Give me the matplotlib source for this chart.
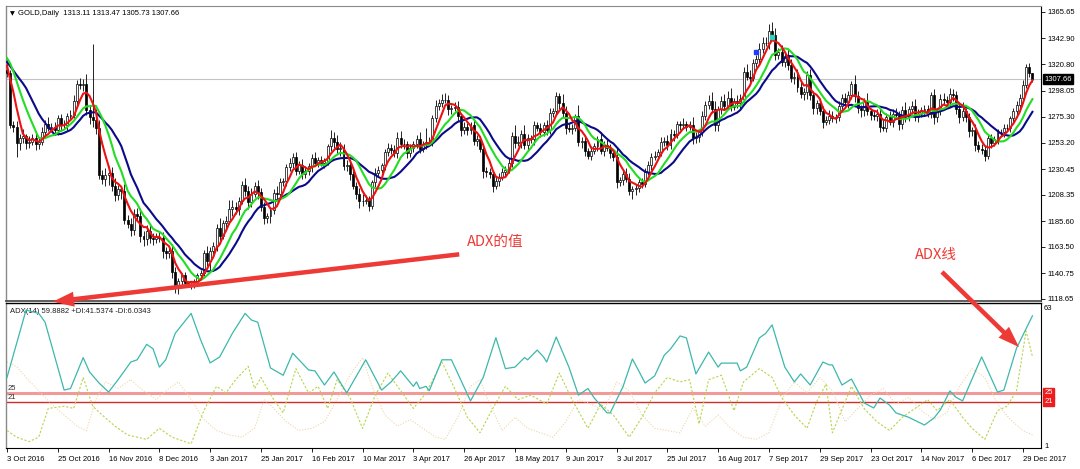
import numpy as np
import pandas as pd
import matplotlib
matplotlib.use('Agg')
import matplotlib.pyplot as plt
from matplotlib.patches import FancyArrowPatch

plt.rcParams['font.family'] = ['Liberation Sans', 'DejaVu Sans']

W, H = 1080, 469

# closes of the last days of Sep 2016 (only used to start the moving averages)
warmup_closes = [1323, 1323, 1310, 1310, 1314, 1314, 1336, 1337, 1338, 1338, 1326, 1322, 1320, 1316]

# daily closes, one line per 16 bars (= one date label)
closes = [
    1313, 1268, 1267, 1253, 1257, 1259, 1253, 1254, 1257, 1252, 1254, 1262, 1269, 1266, 1267, 1264,
    1274, 1268, 1268, 1276, 1277, 1289, 1304, 1303, 1304, 1281, 1275, 1273, 1266, 1225, 1222, 1225,
    1227, 1216, 1208, 1213, 1212, 1187, 1183, 1178, 1192, 1190, 1173, 1170, 1177, 1171, 1170, 1172,
    1171, 1160, 1158, 1160, 1142, 1128, 1134, 1139, 1132, 1131, 1131, 1133, 1139, 1141, 1158, 1151,
    1160, 1164, 1180, 1173, 1184, 1186, 1196, 1198, 1196, 1203, 1217, 1212, 1202, 1209, 1216, 1211,
    1198, 1188, 1190, 1195, 1210, 1209, 1219, 1220, 1232, 1236, 1241, 1229, 1234, 1226, 1229, 1233,
    1240, 1236, 1238, 1236, 1237, 1250, 1257, 1254, 1248, 1249, 1233, 1234, 1226, 1216, 1209, 1203,
    1203, 1204, 1199, 1219, 1227, 1230, 1234, 1245, 1249, 1247, 1244, 1257, 1252, 1252, 1244, 1249,
    1252, 1256, 1248, 1252, 1254, 1254, 1274, 1285, 1287, 1290, 1290, 1282, 1283, 1284, 1276, 1264,
    1267, 1264, 1268, 1255, 1256, 1248, 1229, 1228, 1226, 1216, 1220, 1224, 1228, 1230, 1236, 1259,
    1253, 1254, 1261, 1251, 1257, 1256, 1268, 1266, 1262, 1268, 1264, 1279, 1280, 1293, 1287, 1279,
    1266, 1265, 1266, 1276, 1254, 1255, 1246, 1242, 1246, 1250, 1256, 1246, 1251, 1249, 1244, 1241,
    1219, 1221, 1226, 1222, 1212, 1213, 1214, 1219, 1218, 1228, 1234, 1241, 1242, 1245, 1254, 1255,
    1251, 1261, 1260, 1269, 1268, 1269, 1267, 1268, 1257, 1258, 1262, 1276, 1286, 1289, 1282, 1268,
    1282, 1289, 1285, 1292, 1284, 1289, 1287, 1291, 1314, 1310, 1309, 1322, 1325, 1334, 1339, 1339,
    1349, 1346, 1329, 1331, 1323, 1328, 1320, 1309, 1310, 1301, 1295, 1297, 1311, 1294, 1283, 1287,
    1280, 1271, 1273, 1276, 1274, 1275, 1285, 1292, 1288, 1294, 1304, 1293, 1283, 1281, 1289, 1280,
    1277, 1276, 1278, 1267, 1266, 1275, 1271, 1278, 1277, 1269, 1281, 1275, 1282, 1285, 1275, 1278,
    1281, 1282, 1278, 1294, 1275, 1280, 1291, 1290, 1288, 1295, 1294, 1282, 1275, 1280, 1275, 1263,
    1264, 1251, 1248, 1247, 1242, 1257, 1253, 1256, 1262, 1262, 1266, 1266, 1274, 1280, 1286, 1292,
    1303, 1318, 1313.11, 1307.66,
]

# wick length above / below the candle body
hi_ext = [
    10, 3, 4, 5, 4, 6, 2, 5, 4, 6, 3, 5, 4, 6, 3, 4,
    3, 4, 5, 3, 4, 5, 3, 5, 4, 8, 5, 63, 9, 7, 5, 6,
    6, 5, 7, 4, 3, 6, 4, 5, 4, 5, 7, 4, 5, 6, 4, 3,
    4, 5, 3, 4, 6, 4, 3, 2, 3, 2, 2, 3, 2, 3, 3, 6,
    3, 4, 3, 8, 3, 4, 8, 6, 4, 3, 3, 6, 4, 5, 3, 5,
    3, 4, 3, 2, 3, 6, 4, 3, 3, 4, 3, 4, 3, 5, 4, 3,
    3, 5, 3, 4, 3, 2, 7, 5, 6, 5, 3, 4, 3, 4, 3, 5,
    6, 4, 3, 2, 4, 3, 2, 3, 4, 3, 4, 5, 6, 4, 3, 3,
    3, 4, 6, 3, 12, 4, 3, 5, 4, 5, 6, 4, 3, 4, 5, 3,
    4, 3, 3, 5, 4, 3, 4, 3, 3, 3, 4, 3, 3, 3, 4, 3,
    9, 5, 3, 7, 4, 3, 4, 3, 4, 3, 5, 4, 3, 4, 3, 8,
    6, 4, 3, 2, 10, 3, 4, 3, 4, 3, 3, 6, 4, 5, 3, 3,
    8, 3, 4, 5, 5, 3, 4, 3, 4, 3, 3, 3, 4, 3, 4, 3,
    5, 4, 3, 3, 3, 5, 3, 4, 7, 4, 3, 4, 3, 5, 8, 7,
    3, 4, 6, 6, 8, 3, 5, 4, 4, 7, 6, 3, 4, 5, 5, 5,
    6, 8, 6, 4, 6, 3, 6, 5, 4, 7, 6, 3, 4, 6, 4, 3,
    3, 5, 3, 5, 4, 3, 4, 3, 4, 4, 2, 7, 5, 3, 3, 7,
    3, 4, 4, 5, 6, 4, 5, 4, 5, 3, 4, 7, 3, 4, 6, 4,
    3, 4, 4, 3, 5, 3, 4, 5, 3, 5, 4, 4, 6, 8, 3, 4,
    3, 5, 4, 4, 3, 3, 4, 3, 3, 3, 3, 3, 2, 3, 3, 3,
    4, 3, 4, 0.36,
]
lo_ext = [
    3, 2, 5, 12, 6, 4, 5, 4, 3, 5, 4, 3, 4, 3, 4, 4,
    4, 5, 3, 4, 3, 3, 4, 4, 5, 4, 6, 6, 5, 3, 4, 6,
    8, 4, 5, 4, 7, 4, 3, 5, 4, 4, 5, 6, 5, 4, 5, 3,
    3, 6, 5, 4, 5, 4, 5, 3, 3, 2, 4, 3, 3, 4, 3, 4,
    8, 3, 4, 5, 3, 4, 3, 6, 4, 5, 3, 5, 6, 4, 3, 6,
    4, 5, 4, 6, 3, 4, 4, 3, 4, 3, 5, 4, 3, 4, 3, 4,
    5, 3, 4, 3, 5, 3, 4, 5, 4, 6, 3, 4, 5, 3, 4, 6,
    4, 3, 5, 3, 4, 3, 3, 4, 3, 4, 3, 4, 3, 4, 4, 3,
    4, 3, 4, 3, 4, 3, 4, 3, 4, 3, 3, 5, 4, 3, 4, 5,
    3, 4, 3, 4, 5, 3, 6, 4, 3, 5, 3, 4, 3, 4, 3, 4,
    4, 3, 5, 3, 4, 3, 5, 3, 4, 3, 4, 3, 4, 3, 5, 4,
    5, 3, 4, 3, 4, 5, 4, 3, 4, 3, 4, 3, 4, 3, 4, 4,
    5, 3, 4, 3, 4, 7, 5, 3, 4, 3, 3, 4, 3, 4, 3, 4,
    4, 3, 5, 3, 4, 3, 4, 3, 5, 4, 4, 3, 3, 4, 3, 5,
    5, 4, 4, 3, 4, 3, 4, 5, 3, 3, 4, 3, 4, 4, 4, 3,
    5, 3, 5, 4, 4, 5, 4, 4, 5, 4, 3, 5, 6, 4, 5, 5,
    3, 5, 3, 4, 3, 4, 3, 4, 3, 5, 3, 5, 4, 6, 5, 3,
    4, 3, 4, 5, 3, 4, 3, 4, 3, 5, 4, 4, 3, 4, 3, 4,
    3, 4, 3, 4, 6, 4, 3, 4, 3, 4, 5, 4, 5, 3, 4, 5,
    4, 5, 3, 4, 5, 3, 4, 3, 4, 3, 4, 3, 4, 3, 4, 5,
    4, 3, 3, 1.93,
]

date_labels = ['3 Oct 2016', '25 Oct 2016', '16 Nov 2016', '8 Dec 2016', '3 Jan 2017',
               '25 Jan 2017', '16 Feb 2017', '10 Mar 2017', '3 Apr 2017', '26 Apr 2017',
               '18 May 2017', '9 Jun 2017', '3 Jul 2017', '25 Jul 2017', '16 Aug 2017',
               '7 Sep 2017', '29 Sep 2017', '23 Oct 2017', '14 Nov 2017', '6 Dec 2017',
               '29 Dec 2017']
bars_per_label = 16

price_ticks = [1365.65, 1342.90, 1320.80, 1298.05, 1275.30, 1253.20, 1230.45,
               1208.35, 1185.60, 1163.50, 1140.75, 1118.65]

# ADX(14): bar index and value
adx_bars = [0, 6, 10, 12, 18, 20, 24, 26, 29, 32, 35, 39, 41, 44, 46, 48, 50, 53, 58, 61,
            64, 67, 71, 75, 77, 79, 83, 87, 90, 95, 97, 100, 103, 107, 113, 118, 121, 124,
            128, 129, 130, 132, 133, 137, 140, 146, 150, 154, 157, 160, 163, 164, 167, 169,
            170, 173, 177, 180, 183, 185, 189, 190, 194, 197, 201, 204, 207, 209, 212, 214,
            217, 221, 224, 225, 230, 231, 233, 237, 239, 241, 245, 248, 250, 253, 257, 259,
            260, 263, 266, 270, 273, 275, 278, 280, 284, 287, 289, 292, 294, 297, 299, 301,
            307, 312, 314, 318, 323]
adx_vals = [32, 62.5, 61, 57, 26.3, 27, 41, 34.5, 29.5, 25.4, 31, 39, 40, 47, 45, 36.7, 40,
            52, 61, 49, 38.6, 41.3, 52, 61, 58, 57, 36.3, 33, 43, 35.4, 35, 28.6, 34.5, 25,
            40, 26.3, 30, 35, 28, 30, 27, 28, 26, 40, 40, 21.4, 32, 50, 36, 36.7, 41, 40,
            44.4, 41.3, 39, 50.3, 36.7, 24, 27, 22.7, 16, 16, 27.7, 40.4, 29.5, 32.7, 42,
            44.9, 50.8, 49.9, 33.6, 43.5, 36.7, 38.5, 38.5, 35, 36.7, 49.9, 52, 55.8, 36.7,
            30, 33.6, 28.6, 39, 37.7, 37.7, 28.6, 31.3, 20.5, 18.2, 22.7, 19.5, 16, 14, 11.9,
            10.5, 13.7, 17.3, 25.9, 23, 21.4, 41.3, 25.4, 26.3, 45.3, 59.8882]

pdi_bars = [0, 3, 7, 10, 13, 18, 21, 24, 27, 30, 34, 38, 44, 48, 52, 58, 62, 66, 69, 72,
            76, 78, 80, 84, 87, 91, 95, 98, 101, 104, 108, 112, 116, 120, 124, 128, 132,
            137, 141, 145, 149, 153, 157, 161, 165, 170, 174, 178, 183, 187, 191, 196, 200,
            204, 208, 212, 215, 218, 221, 225, 229, 232, 237, 241, 244, 248, 252, 255, 258,
            260, 266, 270, 274, 278, 282, 285, 290, 293, 297, 301, 304, 308, 312, 315, 318,
            321, 323]
pdi_vals = [8, 5, 3, 5, 18, 19, 18, 32, 19, 15, 10, 6, 4, 9, 5, 2, 17, 28, 25, 31, 37, 27,
            32, 22, 16, 36, 25, 28, 18, 31, 23, 9, 24, 34, 26, 18, 25, 39, 27, 14, 7, 18, 28,
            22, 24, 20, 34, 22, 9, 20, 15, 5, 14, 25, 32, 30, 31, 11, 31, 33, 17, 30, 36, 32,
            23, 15, 9, 21, 29, 7, 28, 18, 12, 8, 14, 17, 22, 17, 22, 14, 9, 4, 17, 19, 26, 53,
            41.5374]

mdi_bars = [0, 3, 6, 10, 14, 18, 22, 25, 28, 31, 35, 39, 43, 47, 51, 54, 58, 62, 66, 70,
            74, 78, 81, 84, 88, 92, 96, 100, 104, 108, 112, 115, 119, 123, 127, 131, 135,
            138, 142, 146, 149, 152, 156, 160, 164, 168, 172, 176, 180, 184, 188, 192, 196,
            200, 204, 208, 212, 216, 220, 224, 228, 232, 236, 240, 244, 248, 252, 256, 260,
            264, 268, 272, 276, 280, 284, 288, 292, 296, 300, 304, 308, 312, 316, 320, 323]
mdi_vals = [39, 37, 32, 26, 20, 15, 10, 8, 22, 30, 27, 31, 26, 22, 27, 30, 22, 13, 8, 6, 5,
            9, 22, 18, 12, 8, 9, 12, 22, 33, 41, 28, 15, 10, 13, 9, 5, 4, 14, 28, 31, 20, 8,
            14, 9, 7, 5, 12, 22, 20, 17, 30, 26, 15, 9, 8, 7, 18, 10, 15, 9, 5, 4, 7, 22, 30,
            25, 32, 26, 12, 18, 24, 27, 20, 23, 17, 13, 16, 28, 36, 32, 20, 13, 8, 6.0343]

# two small chart objects near the Sep 2017 top
obj_bars = [236, 241]
obj_prices = [1331, 1344]
obj_colors = ['#1e3cff', '#30d0c0']

# ---- build candles and moving averages
all_close = pd.Series(warmup_closes + closes, dtype=float)
k = len(warmup_closes)
c = np.array(closes, dtype=float)
o = all_close.shift(1).iloc[k:].to_numpy()
hi = np.maximum(o, c) + np.array(hi_ext, dtype=float)
lo = np.minimum(o, c) - np.array(lo_ext, dtype=float)
ma5 = all_close.rolling(5).mean().iloc[k:].to_numpy()
ma10 = all_close.rolling(10).mean().iloc[k:].to_numpy()
ma15 = all_close.rolling(15).mean().iloc[k:].to_numpy()
x = np.arange(len(c))
up = c >= o

fig = plt.figure(figsize=(W / 100, H / 100), dpi=100)
fig.patch.set_facecolor('white')

left, right = 5.5, 1041
ax = fig.add_axes([left / W, 1 - 301 / H, (right - left) / W, (301 - 6) / H])
ax2 = fig.add_axes([left / W, 1 - 448 / H, (right - left) / W, (448 - 303) / H])
xlim = (-0.47, 325.7)

# main price panel
ax.axhline(c[-1], color='#c4c4c4', lw=0.8, zorder=1)
ax.vlines(x, lo, hi, color='black', lw=0.6, zorder=2)
ax.bar(x[up], (c - o)[up], bottom=o[up], width=0.62, color='white', edgecolor='black', lw=0.5, zorder=3)
ax.bar(x[~up], (o - c)[~up], bottom=c[~up], width=0.62, color='black', edgecolor='black', lw=0.5, zorder=3)
ax.plot(x, ma15, color='#0a0a8a', lw=1.5, zorder=4)
ax.plot(x, ma10, color='#22dd22', lw=1.5, zorder=5)
ax.plot(x, ma5, color='#ee1111', lw=1.5, zorder=6)
for bx, by, bc in zip(obj_bars, obj_prices, obj_colors):
    ax.plot(bx, by, marker='s', ms=3.2, color=bc, zorder=7)

ax.set_xlim(*xlim)
ax.set_ylim(1116.9, 1370.8)
ax.set_xticks([])
ax.yaxis.tick_right()
ax.set_yticks(price_ticks)
ax.set_yticklabels([f'{v:.2f}' for v in price_ticks])
ax.tick_params(axis='y', direction='out', length=3, width=0.6, pad=2, labelsize=5.5)
ax.text(1.003, c[-1], f'{c[-1]:.2f}', transform=ax.get_yaxis_transform(), ha='left', va='center',
        fontsize=5.5, color='white',
        bbox=dict(boxstyle='square,pad=0.2', fc='black', ec='black'))
ax.text(0.004, 0.975, '\u25bc', transform=ax.transAxes, fontsize=4.5, va='center', ha='left',
        family=['DejaVu Sans'])
ax.text(0.012, 0.975, 'GOLD,Daily  1313.11 1313.47 1305.73 1307.66', transform=ax.transAxes,
        fontsize=5.5, va='center', ha='left')

# ADX panel
ax2.axhline(25, color='#f29a9a', lw=2.2, zorder=1)
ax2.axhline(21, color='#d42a2a', lw=1.0, zorder=1)
ax2.plot(mdi_bars, mdi_vals, color='#efd6a8', lw=0.8, ls=(0, (1, 1.5)), zorder=2)
ax2.plot(pdi_bars, pdi_vals, color='#b5d54a', lw=0.8, ls=(0, (2, 1.6)), zorder=3)
ax2.plot(adx_bars, adx_vals, color='#3cb8ac', lw=0.9, zorder=4)
ax2.set_xlim(*xlim)
ax2.set_ylim(0.1, 65.7)
ax2.set_yticks([])
ax2.text(0.004, 0.94, 'ADX(14) 59.8882 +DI:41.5374 -DI:6.0343', transform=ax2.transAxes,
         fontsize=5.5, va='center', ha='left', color='#202020')
for lvl in (25, 21):
    ax2.text(0.002, lvl + 0.4, str(lvl), transform=ax2.get_yaxis_transform(), fontsize=5.5,
             va='bottom', ha='left', color='#303030')
    ax2.text(1.003, lvl, str(lvl), transform=ax2.get_yaxis_transform(), fontsize=5.5,
             va='center', ha='left', color='white',
             bbox=dict(boxstyle='square,pad=0.15', fc='#ee1c1c', ec='#ee1c1c'))
ax2.text(1.003, 63, '63', transform=ax2.get_yaxis_transform(), fontsize=5.5, va='center', ha='left')
ax2.text(1.003, 1, '1', transform=ax2.get_yaxis_transform(), fontsize=5.5, va='center', ha='left')

tick_pos = [i * bars_per_label for i in range(len(date_labels))]
ax2.set_xticks(tick_pos)
ax2.set_xticklabels(date_labels, ha='left')
ax2.tick_params(axis='x', direction='out', length=3, width=0.6, pad=2.5, labelsize=5.5)

for a in (ax, ax2):
    a.set_facecolor('white')
    a.spines['left'].set_color('#8a8a8a')
    a.spines['top'].set_color('#8a8a8a')
    a.spines['right'].set_color('black')
    a.spines['right'].set_linewidth(0.8)
    a.spines['left'].set_linewidth(1.0)
ax.spines['bottom'].set_color('#505050')
ax.spines['bottom'].set_linewidth(1.3)
ax2.spines['top'].set_color('black')
ax2.spines['top'].set_linewidth(1.0)
ax2.spines['bottom'].set_color('black')
ax2.spines['bottom'].set_linewidth(0.8)

# red annotations drawn over the screenshot
red = '#ee3a36'
fig.text(495 / W, 1 - 242 / H, 'ADX的值', color=red, fontsize=10.5, ha='center', va='center',
         family=['Noto Sans CJK SC'])
fig.text(936 / W, 1 - 255 / H, 'ADX线', color=red, fontsize=10.5, ha='center', va='center',
         family=['Noto Sans CJK SC'])
style = 'simple,head_length=1.7,head_width=1.2,tail_width=0.36'
fig.add_artist(FancyArrowPatch((462, H - 254), (50, H - 302), transform=None,
                               arrowstyle=style, mutation_scale=9, color=red, lw=0, zorder=20))
fig.add_artist(FancyArrowPatch((940, H - 270), (1021, H - 349), transform=None,
                               arrowstyle=style, mutation_scale=9, color=red, lw=0, zorder=20))

fig.savefig('out.png', dpi=100, facecolor='white')
